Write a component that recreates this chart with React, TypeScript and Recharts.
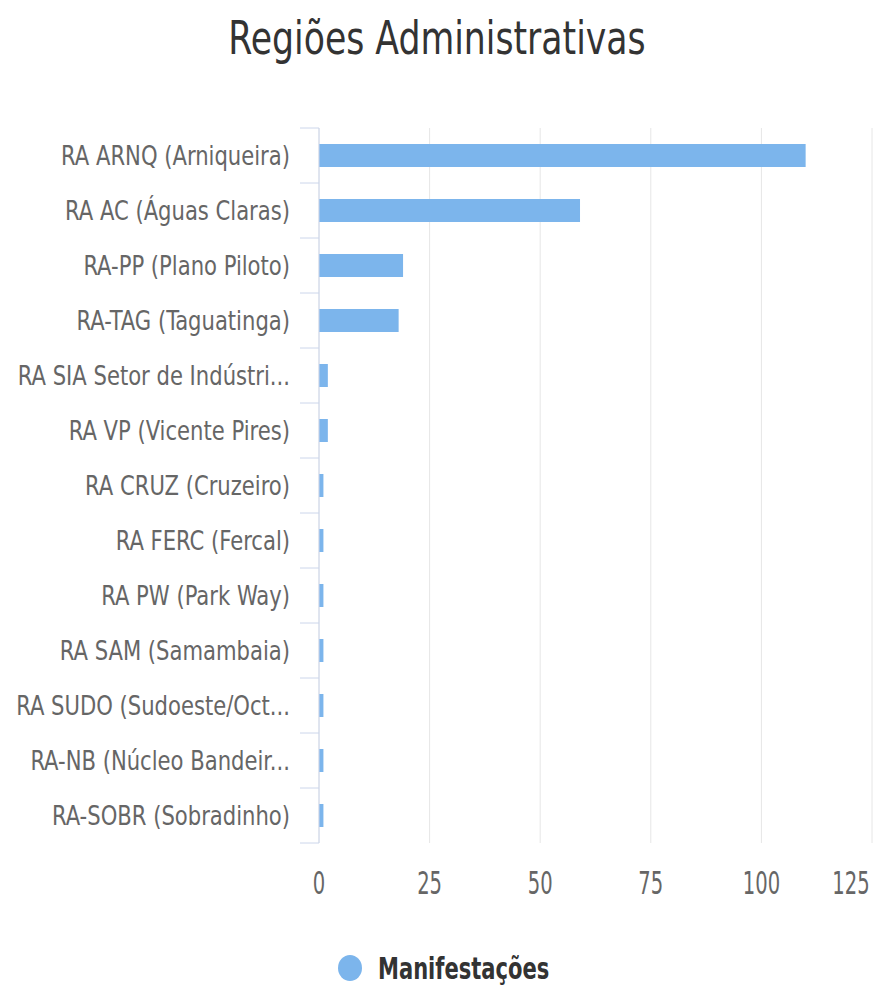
import React from "react"
import { BarChart, Bar, XAxis, YAxis, CartesianGrid, Legend } from "recharts"

const categories = [
  "RA ARNQ (Arniqueira)",
  "RA AC (Águas Claras)",
  "RA-PP (Plano Piloto)",
  "RA-TAG (Taguatinga)",
  "RA SIA Setor de Indústri...",
  "RA VP (Vicente Pires)",
  "RA CRUZ (Cruzeiro)",
  "RA FERC (Fercal)",
  "RA PW (Park Way)",
  "RA SAM (Samambaia)",
  "RA SUDO (Sudoeste/Oct...",
  "RA-NB (Núcleo Bandeir...",
  "RA-SOBR (Sobradinho)",
]
const manifestacoes = [110, 59, 19, 18, 2, 2, 1, 1, 1, 1, 1, 1, 1]
const xTicks = [0, 25, 50, 75, 100, 125]

const data = categories.map((name, i) => ({ name, value: manifestacoes[i] }))

const FONT = "'DejaVu Sans Condensed', 'DejaVu Sans', sans-serif"
const W = 874
const H = 988
const TOP = 128
const PLOT_H = 715
const BAND = PLOT_H / categories.length
const LEGEND_H = 36

// recharts hands the tick x already shifted left by tickSize + tickMargin
function CategoryTick(props: any) {
  const { x, y, payload, index } = props
  const ax = x + 8
  return (
    <g>
      <line x1={ax - 19} x2={ax} y1={y - BAND / 2} y2={y - BAND / 2} stroke="#ccd6eb" />
      {index === categories.length - 1 && (
        <line x1={ax - 19} x2={ax} y1={y + BAND / 2} y2={y + BAND / 2} stroke="#ccd6eb" />
      )}
      <text
        transform={`translate(${ax - 29},${y + 9}) scale(0.87,1)`}
        textAnchor="end"
        fill="#666666"
        fontSize={27}
        fontFamily={FONT}
      >
        {payload.value}
      </text>
    </g>
  )
}

function ValueTick(props: any) {
  const { x, y, payload, index } = props
  const last = index === xTicks.length - 1
  return (
    <text
      transform={`translate(${last ? x - 11 : x},${y + 43}) scale(0.68,1)`}
      textAnchor="middle"
      fill="#666666"
      fontSize={32}
      fontFamily={FONT}
    >
      {payload.value}
    </text>
  )
}

function LegendContent() {
  return (
    <svg width={W} height={LEGEND_H} style={{ display: "block" }}>
      <ellipse cx={350} cy={18} rx={12} ry={13} fill="#7cb5ec" />
      <text
        transform="translate(378,29) scale(0.78,1)"
        fill="#333333"
        fontSize={30}
        fontWeight="bold"
        fontFamily={FONT}
      >
        Manifestações
      </text>
    </svg>
  )
}

export default function App() {
  return (
    <div style={{ position: "absolute", left: 0, top: 0, width: W, height: H, background: "#fff" }}>
      <div
        style={{
          position: "absolute",
          left: 0,
          top: 10,
          width: W,
          textAlign: "center",
          fontFamily: FONT,
          fontSize: 47,
          color: "#333333",
          transform: "scaleX(0.82)",
        }}
      >
        Regiões Administrativas
      </div>
      <BarChart
        width={W}
        height={H}
        data={data}
        layout="vertical"
        margin={{ top: TOP, right: 2, left: 0, bottom: H - TOP - PLOT_H - 70 - LEGEND_H }}
        barCategoryGap={0}
      >
        <CartesianGrid horizontal={false} vertical stroke="#e6e6e6" />
        <XAxis
          type="number"
          domain={[0, 125]}
          ticks={xTicks}
          axisLine={false}
          tickLine={false}
          height={70}
          tick={<ValueTick />}
        />
        <YAxis
          type="category"
          dataKey="name"
          width={319}
          axisLine={{ stroke: "#ccd6eb" }}
          tickLine={false}
          interval={0}
          tick={<CategoryTick />}
        />
        <Legend
          verticalAlign="bottom"
          content={<LegendContent />}
          wrapperStyle={{ position: "absolute", left: 0, top: 950, width: W, height: LEGEND_H }}
        />
        <Bar dataKey="value" name="Manifestações" fill="#7cb5ec" barSize={23} isAnimationActive={false} />
      </BarChart>
    </div>
  )
}
